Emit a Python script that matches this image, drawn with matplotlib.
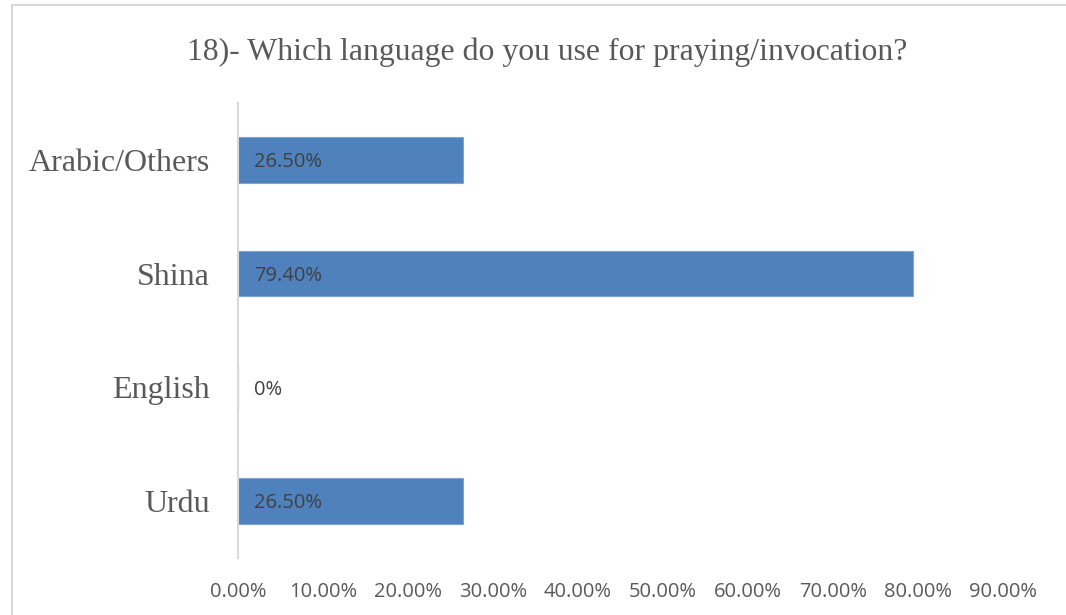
import matplotlib.pyplot as plt
from matplotlib.lines import Line2D

# survey answers, bottom to top
languages = ["Urdu", "English", "Shina", "Arabic/Others"]
shares = [0.265, 0.0, 0.794, 0.265]
share_labels = ["26.50%", "0%", "79.40%", "26.50%"]
xticks = [0.0, 0.1, 0.2, 0.3, 0.4, 0.5, 0.6, 0.7, 0.8, 0.9]
xtick_labels = ["0.00%", "10.00%", "20.00%", "30.00%", "40.00%",
                "50.00%", "60.00%", "70.00%", "80.00%", "90.00%"]

W, H = 1066, 615
fig = plt.figure(figsize=(W / 100, H / 100), dpi=100)
ax = fig.add_axes([238 / W, 1 - 558 / H, (1003 - 238) / W, (558 - 103) / H])

ypos = list(range(len(languages)))
ax.barh(ypos, shares, height=0.4, color="#4f81bd", edgecolor="#7fa3d3", linewidth=0.8)

for y, v, lab in zip(ypos, shares, share_labels):
    ax.text(0.019, y - 0.02, lab, va="center", ha="left", fontsize=14.5,
            family="Open Sans", color="#404040")

ax.set_xlim(0, 0.9)
ax.set_ylim(-0.5, 3.5)
ax.set_yticks(ypos)
ax.set_yticklabels(languages, family="Liberation Serif", fontsize=23, color="#595959")
ax.set_xticks(xticks)
ax.set_xticklabels(xtick_labels, family="Open Sans", fontsize=14.5, color="#595959")
ax.tick_params(axis="both", length=0)
ax.tick_params(axis="y", pad=20)
ax.tick_params(axis="x", pad=17)

for side in ["top", "right", "bottom"]:
    ax.spines[side].set_visible(False)
ax.spines["left"].set_color("#d9d9d9")
ax.spines["left"].set_linewidth(1.5)

fig.text(547 / W, 1 - 52 / H, "18)- Which language do you use for praying/invocation?",
         ha="center", va="center", family="Liberation Serif", fontsize=22.9, color="#595959")

# outer chart frame
fig.add_artist(Line2D([12 / W, 1], [1 - 5 / H, 1 - 5 / H], color="#d9d9d9", lw=1.5))
fig.add_artist(Line2D([12 / W, 12 / W], [0, 1 - 5 / H], color="#d9d9d9", lw=1.5))

fig.savefig("out.png", dpi=100)
